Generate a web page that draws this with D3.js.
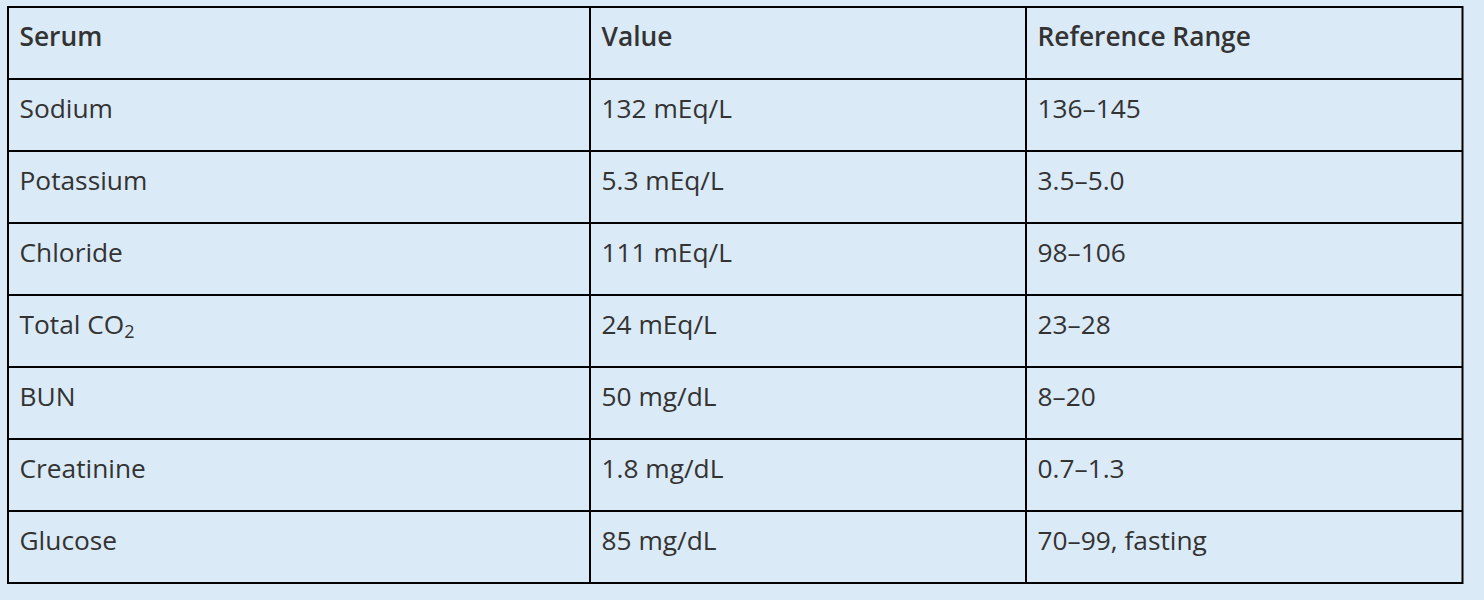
<!DOCTYPE html>
<html>
<head>
<meta charset="utf-8">
<script src="https://cdn.jsdelivr.net/npm/d3@7/dist/d3.min.js"></script>
<style>
  html, body { margin: 0; padding: 0; background: #dbeaf7; }
  svg { display: block; }
</style>
</head>
<body>
<svg id="chart" width="1484" height="600"></svg>
<script>
const headers = ["Serum", "Value", "Reference Range"];
const serum = ["Sodium", "Potassium", "Chloride", "Total CO|2", "BUN", "Creatinine", "Glucose"];
const values = ["132 mEq/L", "5.3 mEq/L", "111 mEq/L", "24 mEq/L", "50 mg/dL", "1.8 mg/dL", "85 mg/dL"];
const ranges = ["136\u2013145", "3.5\u20135.0", "98\u2013106", "23\u201328", "8\u201320", "0.7\u20131.3", "70\u201399, fasting"];

const W = 1484, H = 600;
const svg = d3.select("#chart");
svg.append("rect").attr("width", W).attr("height", H).attr("fill", "#dbeaf7");

const rowKeys = ["header"].concat(serum.map((d, i) => "r" + i));
const y = d3.scaleBand().domain(rowKeys).range([7, 583]).paddingInner(0).paddingOuter(0);
const colEdges = [8, 590, 1026, 1462.5];
const x = d3.scaleOrdinal().domain([0, 1, 2, 3]).range(colEdges);

const rows = [headers].concat(serum.map((s, i) => [s, values[i], ranges[i]]));

const g = svg.append("g");

// text
rows.forEach((r, ri) => {
  const key = rowKeys[ri];
  r.forEach((txt, ci) => {
    const t = g.append("text")
      .attr("x", x(ci) + 11.5)
      .attr("y", y(key) + 38.6)
      .attr("fill", "#333333")
      .attr("font-family", "'Open Sans', 'Noto Sans', sans-serif")
      .attr("font-size", 26.3)
      .attr("font-weight", ri === 0 ? 600 : 400);
    const parts = txt.split("|");
    t.append("tspan").text(parts[0]);
    if (parts.length > 1) {
      t.append("tspan").attr("font-size", 18).attr("dy", 4).text(parts[1]);
    }
  });
});

// grid lines
const lineColor = "#000";
rowKeys.slice(1).forEach(k => {
  g.append("line")
    .attr("x1", colEdges[0]).attr("x2", colEdges[3])
    .attr("y1", y(k)).attr("y2", y(k))
    .attr("stroke", lineColor).attr("stroke-width", 2);
});
[1, 2].forEach(ci => {
  g.append("line")
    .attr("x1", x(ci)).attr("x2", x(ci))
    .attr("y1", y.range()[0]).attr("y2", y.range()[1])
    .attr("stroke", lineColor).attr("stroke-width", 2);
});
g.append("rect")
  .attr("x", colEdges[0]).attr("y", y.range()[0])
  .attr("width", colEdges[3] - colEdges[0])
  .attr("height", y.range()[1] - y.range()[0])
  .attr("fill", "none").attr("stroke", lineColor).attr("stroke-width", 2);
</script>
</body>
</html>
